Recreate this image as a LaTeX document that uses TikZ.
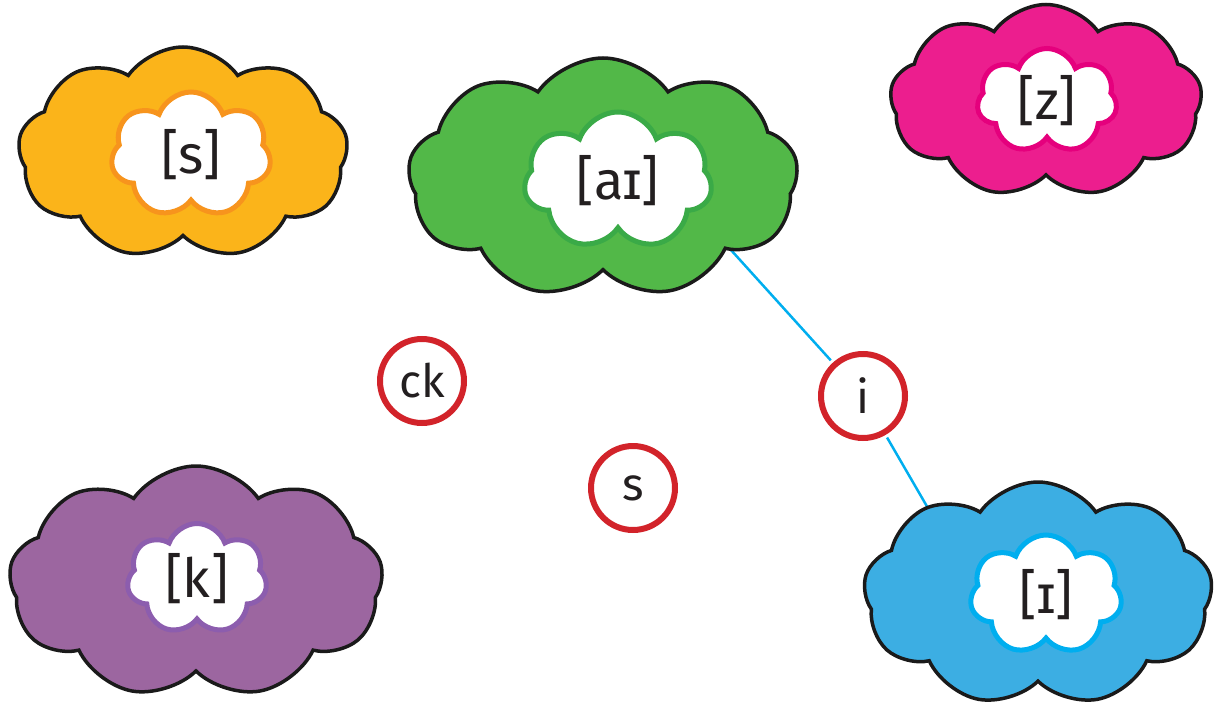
\documentclass[tikz,border=0pt]{standalone}
\usepackage{fontspec}
\setmainfont{Fira Sans}
\usetikzlibrary{shapes.symbols}
\definecolor{orangeF}{HTML}{FBB41A}
\definecolor{orangeI}{HTML}{F7941D}
\definecolor{greenF}{HTML}{52B848}
\definecolor{greenI}{HTML}{3AAA47}
\definecolor{pinkF}{HTML}{EC1E8E}
\definecolor{pinkI}{HTML}{E5007D}
\definecolor{purpleF}{HTML}{9C66A0}
\definecolor{purpleI}{HTML}{8C5DAE}
\definecolor{blueF}{HTML}{3CAEE3}
\definecolor{blueI}{HTML}{00AEEF}
\definecolor{cred}{HTML}{D2232A}
\definecolor{linkblue}{HTML}{00AEEF}
\definecolor{textcol}{HTML}{231F20}
\definecolor{inkblack}{HTML}{1A1A1A}
\begin{document}
\begin{tikzpicture}[x=1pt,y=-1pt,
  outercloud/.style={cloud, cloud puffs=9, cloud puff arc=110, cloud ignores aspect,
    draw=inkblack, line width=3.5pt, inner sep=0pt},
  innercloud/.style={cloud, cloud puffs=7, cloud puff arc=140, cloud ignores aspect,
    fill=white, line width=5pt, inner sep=0pt, text=textcol,
    font=\fontsize{54}{60}\selectfont},
  letter/.style={circle, draw=cred, line width=6pt, fill=white, minimum size=84pt,
    inner sep=0pt, text=textcol, font=\fontsize{46}{50}\selectfont},
  link/.style={draw=linkblue, line width=2.5pt}]
\useasboundingbox (0,0) rectangle (1218,709);

% letter circles
\node[letter] (cck) at (422,381) {ck};
\node[letter] (cs) at (633,488) {s};
\node[letter] (ci) at (863,396) {i};

% connectors (drawn below the clouds; their cloud ends are hidden by the clouds)
\coordinate (gEdge) at (712,229);
\coordinate (bEdge) at (936,522);
\draw[link, shorten >=3pt] (gEdge) -- (ci);
\draw[link, shorten <=3pt] (ci) -- (bEdge);

% outer clouds
\node[outercloud, fill=orangeF, minimum width=330pt, minimum height=212pt, shape border rotate=0] (os) at (183,153) {};
\node[outercloud, fill=greenF, minimum width=390pt, minimum height=240pt, shape border rotate=0] (oai) at (603,178) {};
\node[outercloud, fill=pinkF, minimum width=312pt, minimum height=193pt, shape border rotate=0] (oz) at (1046,101) {};
\node[outercloud, fill=purpleF, minimum width=374pt, minimum height=232pt, shape border rotate=0] (ok) at (196,582) {};
\node[outercloud, fill=blueF, minimum width=349pt, minimum height=224pt, shape border rotate=0] (oI) at (1038,594) {};

% inner clouds with labels
\node[innercloud, draw=orangeI, minimum width=160pt, minimum height=126pt] (is) at (191,155) {[s]};
\node[innercloud, draw=greenI, minimum width=188pt, minimum height=138pt] (iai) at (618,181) {[aɪ]};
\node[innercloud, draw=pinkI, minimum width=140pt, minimum height=105pt] (iz) at (1047,101) {[z]};
\node[innercloud, draw=purpleI, minimum width=140pt, minimum height=111pt] (ik) at (197,579) {[k]};
\node[innercloud, draw=blueI, minimum width=152pt, minimum height=120pt] (iI) at (1046,595) {[ɪ]};
\end{tikzpicture}
\end{document}
